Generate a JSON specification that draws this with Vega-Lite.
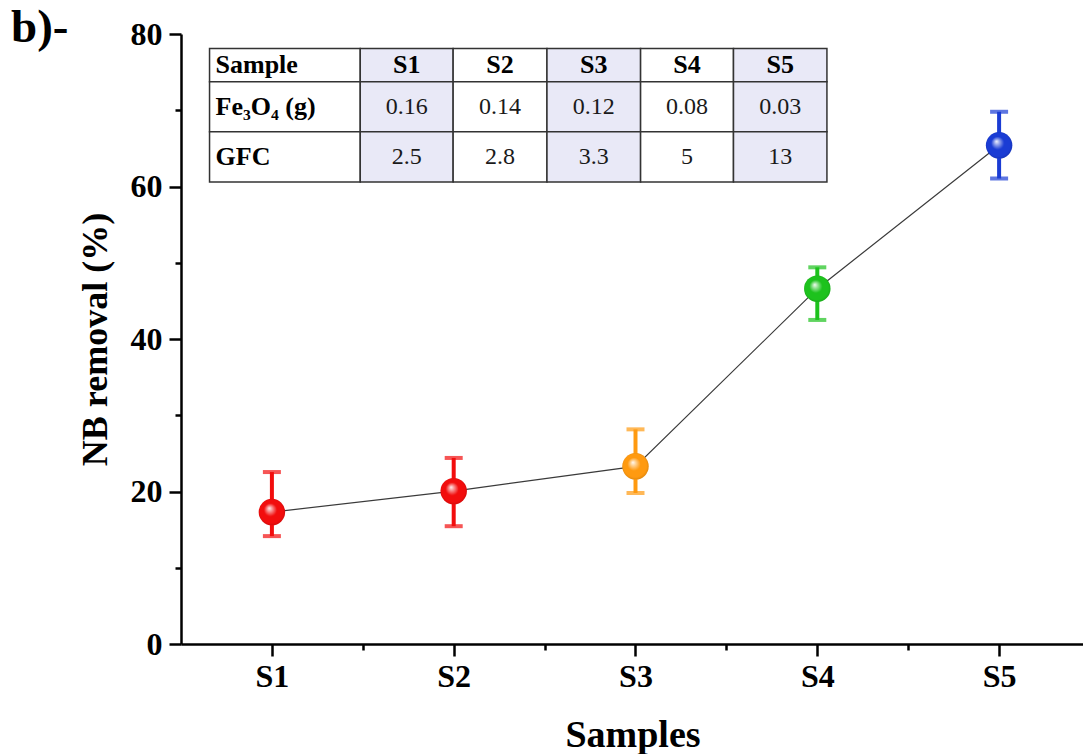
{
  "$schema": "https://vega.github.io/schema/vega-lite/v6.json",
  "width": 903,
  "height": 610,
  "autosize": {"type": "none"},
  "padding": {"left": 181, "top": 34, "right": 0, "bottom": 110},
  "background": "white",
  "config": {"view": {"stroke": null}, "font": "Liberation Serif"},
  "title": {
    "text": "b)-",
    "anchor": "start",
    "frame": "group",
    "font": "Liberation Serif",
    "fontSize": 47,
    "fontWeight": "bold",
    "color": "black",
    "baseline": "alphabetic",
    "offset": 0,
    "dx": -170,
    "dy": 71
  },
  "datasets": {
    "points": [
      {"sample": "S1", "idx": 1, "removal": 17.3, "low": 14.15, "high": 22.55},
      {"sample": "S2", "idx": 2, "removal": 20.05, "low": 15.45, "high": 24.4},
      {"sample": "S3", "idx": 3, "removal": 23.3, "low": 19.8, "high": 28.15},
      {"sample": "S4", "idx": 4, "removal": 46.6, "low": 42.5, "high": 49.4},
      {"sample": "S5", "idx": 5, "removal": 65.4, "low": 61.05, "high": 69.8}
    ],
    "cells": [
      {"row": "Sample", "col": "Sample", "text": "Sample", "x0": 0.657, "x1": 1.486, "y0": 73.73, "y1": 78.11},
      {"row": "Sample", "col": "S1", "text": "S1", "x0": 1.486, "x1": 1.997, "y0": 73.73, "y1": 78.11},
      {"row": "Sample", "col": "S2", "text": "S2", "x0": 1.997, "x1": 2.513, "y0": 73.73, "y1": 78.11},
      {"row": "Sample", "col": "S3", "text": "S3", "x0": 2.513, "x1": 3.028, "y0": 73.73, "y1": 78.11},
      {"row": "Sample", "col": "S4", "text": "S4", "x0": 3.028, "x1": 3.539, "y0": 73.73, "y1": 78.11},
      {"row": "Sample", "col": "S5", "text": "S5", "x0": 3.539, "x1": 4.053, "y0": 73.73, "y1": 78.11},
      {"row": "Fe", "col": "Sample", "text": "Fe₃O₄  (g)", "x0": 0.657, "x1": 1.486, "y0": 67.17, "y1": 73.73},
      {"row": "Fe", "col": "S1", "text": "0.16", "x0": 1.486, "x1": 1.997, "y0": 67.17, "y1": 73.73},
      {"row": "Fe", "col": "S2", "text": "0.14", "x0": 1.997, "x1": 2.513, "y0": 67.17, "y1": 73.73},
      {"row": "Fe", "col": "S3", "text": "0.12", "x0": 2.513, "x1": 3.028, "y0": 67.17, "y1": 73.73},
      {"row": "Fe", "col": "S4", "text": "0.08", "x0": 3.028, "x1": 3.539, "y0": 67.17, "y1": 73.73},
      {"row": "Fe", "col": "S5", "text": "0.03", "x0": 3.539, "x1": 4.053, "y0": 67.17, "y1": 73.73},
      {"row": "GFC", "col": "Sample", "text": "GFC", "x0": 0.657, "x1": 1.486, "y0": 60.6, "y1": 67.17},
      {"row": "GFC", "col": "S1", "text": "2.5", "x0": 1.486, "x1": 1.997, "y0": 60.6, "y1": 67.17},
      {"row": "GFC", "col": "S2", "text": "2.8", "x0": 1.997, "x1": 2.513, "y0": 60.6, "y1": 67.17},
      {"row": "GFC", "col": "S3", "text": "3.3", "x0": 2.513, "x1": 3.028, "y0": 60.6, "y1": 67.17},
      {"row": "GFC", "col": "S4", "text": "5", "x0": 3.028, "x1": 3.539, "y0": 60.6, "y1": 67.17},
      {"row": "GFC", "col": "S5", "text": "13", "x0": 3.539, "x1": 4.053, "y0": 60.6, "y1": 67.17}
    ]
  },
  "layer": [
    {
      "data": {"name": "points"},
      "mark": {"type": "line", "color": "#3a3a3a", "strokeWidth": 1.2},
      "encoding": {
        "x": {
          "field": "idx",
          "type": "quantitative",
          "title": "Samples",
          "scale": {"domain": [0.5, 5.467], "nice": false, "zero": false},
          "axis": {
            "title": "Samples",
            "values": [1, 1.5, 2, 2.5, 3, 3.5, 4, 4.5, 5],
            "labelExpr": "datum.value % 1 === 0 ? 'S' + datum.value : ''",
            "tickSize": {"condition": {"test": "datum.value % 1 === 0", "value": 12}, "value": 6},
            "tickWidth": 2.5,
            "tickColor": "black",
            "domainColor": "black",
            "domainWidth": 2.5,
            "grid": false,
            "labelFont": "Liberation Serif",
            "labelFontWeight": "bold",
            "labelFontSize": 32,
            "labelColor": "black",
            "labelPadding": 5,
            "labelFlush": false,
            "labelOverlap": false,
            "titleFont": "Liberation Serif",
            "titleFontSize": 38,
            "titleFontWeight": "bold",
            "titleColor": "black",
            "titlePadding": 24
          }
        },
        "y": {
          "field": "removal",
          "type": "quantitative",
          "title": "NB removal (%)",
          "scale": {"domain": [0, 80], "nice": false, "zero": true},
          "axis": {
            "title": "NB removal (%)",
            "values": [0, 10, 20, 30, 40, 50, 60, 70, 80],
            "labelExpr": "datum.value % 20 === 0 ? datum.value : ''",
            "tickSize": {"condition": {"test": "datum.value % 20 === 0", "value": 12}, "value": 6},
            "tickWidth": 2.5,
            "tickColor": "black",
            "domainColor": "black",
            "domainWidth": 2.5,
            "grid": false,
            "labelFont": "Liberation Serif",
            "labelFontWeight": "bold",
            "labelFontSize": 32,
            "labelColor": "black",
            "labelPadding": 7,
            "labelFlush": false,
            "labelOverlap": false,
            "titleFont": "Liberation Serif",
            "titleFontSize": 36,
            "titleFontWeight": "bold",
            "titleColor": "black",
            "titlePadding": 16
          }
        }
      }
    },
    {
      "data": {"name": "cells"},
      "transform": [
        {"calculate": "(datum.x0 + datum.x1) / 2", "as": "xm"},
        {"calculate": "(datum.y0 + datum.y1) / 2", "as": "ym"}
      ],
      "layer": [
        {
          "mark": {"type": "rect", "stroke": "#333333", "strokeWidth": 1.5},
          "encoding": {
            "x": {"field": "x0", "type": "quantitative", "title": "Samples"},
            "x2": {"field": "x1"},
            "y": {"field": "y0", "type": "quantitative", "title": "NB removal (%)"},
            "y2": {"field": "y1"},
            "fill": {
              "condition": {"test": "indexof(['S1','S3','S5'], datum.col) >= 0", "value": "#e9e9f7"},
              "value": "white"
            }
          }
        },
        {
          "transform": [{"filter": "datum.col === 'Sample'"}],
          "mark": {"type": "text", "align": "left", "baseline": "middle", "dx": 6, "font": "Liberation Serif", "fontSize": 26, "fontWeight": "bold", "color": "black"},
          "encoding": {
            "x": {"field": "x0", "type": "quantitative", "title": "Samples"},
            "y": {"field": "ym", "type": "quantitative", "title": "NB removal (%)"},
            "text": {"field": "text"}
          }
        },
        {
          "transform": [{"filter": "datum.col !== 'Sample' && datum.row === 'Sample'"}],
          "mark": {"type": "text", "align": "center", "baseline": "middle", "font": "Liberation Serif", "fontSize": 26, "fontWeight": "bold", "color": "black"},
          "encoding": {
            "x": {"field": "xm", "type": "quantitative", "title": "Samples"},
            "y": {"field": "ym", "type": "quantitative", "title": "NB removal (%)"},
            "text": {"field": "text"}
          }
        },
        {
          "transform": [{"filter": "datum.col !== 'Sample' && datum.row !== 'Sample'"}],
          "mark": {"type": "text", "align": "center", "baseline": "middle", "font": "Liberation Serif", "fontSize": 24, "fontWeight": "normal", "color": "#1a1a1a"},
          "encoding": {
            "x": {"field": "xm", "type": "quantitative", "title": "Samples"},
            "y": {"field": "ym", "type": "quantitative", "title": "NB removal (%)"},
            "text": {"field": "text"}
          }
        }
      ]
    },
    {
      "data": {"name": "points"},
      "layer": [
        {
          "mark": {"type": "errorbar", "thickness": 4, "ticks": {"size": 18, "thickness": 4}},
          "encoding": {
            "x": {"field": "idx", "type": "quantitative", "title": "Samples"},
            "y": {"field": "low", "type": "quantitative", "title": "NB removal (%)"},
            "y2": {"field": "high"},
            "color": {
              "field": "sample",
              "type": "nominal",
              "scale": {"domain": ["S1", "S2", "S3", "S4", "S5"], "range": ["#f20d0d", "#f20d0d", "#ff9a10", "#1dc21d", "#1a3cd4"]},
              "legend": null
            }
          }
        },
        {
          "mark": {"type": "circle", "size": 700, "opacity": 1},
          "encoding": {
            "x": {"field": "idx", "type": "quantitative", "title": "Samples"},
            "y": {"field": "removal", "type": "quantitative", "title": "NB removal (%)"},
            "color": {"field": "sample", "type": "nominal", "legend": null}
          }
        },
        {
          "mark": {
            "type": "circle",
            "size": 700,
            "opacity": 1,
            "fill": {
              "gradient": "radial",
              "x1": 0.4, "y1": 0.35, "r1": 0,
              "x2": 0.5, "y2": 0.5, "r2": 0.55,
              "stops": [
                {"offset": 0, "color": "rgba(255,255,255,0.95)"},
                {"offset": 0.18, "color": "rgba(255,255,255,0.55)"},
                {"offset": 0.45, "color": "rgba(255,255,255,0)"},
                {"offset": 0.8, "color": "rgba(0,0,0,0)"},
                {"offset": 1, "color": "rgba(0,0,0,0.18)"}
              ]
            }
          },
          "encoding": {
            "x": {"field": "idx", "type": "quantitative", "title": "Samples"},
            "y": {"field": "removal", "type": "quantitative", "title": "NB removal (%)"}
          }
        }
      ]
    }
  ]
}
